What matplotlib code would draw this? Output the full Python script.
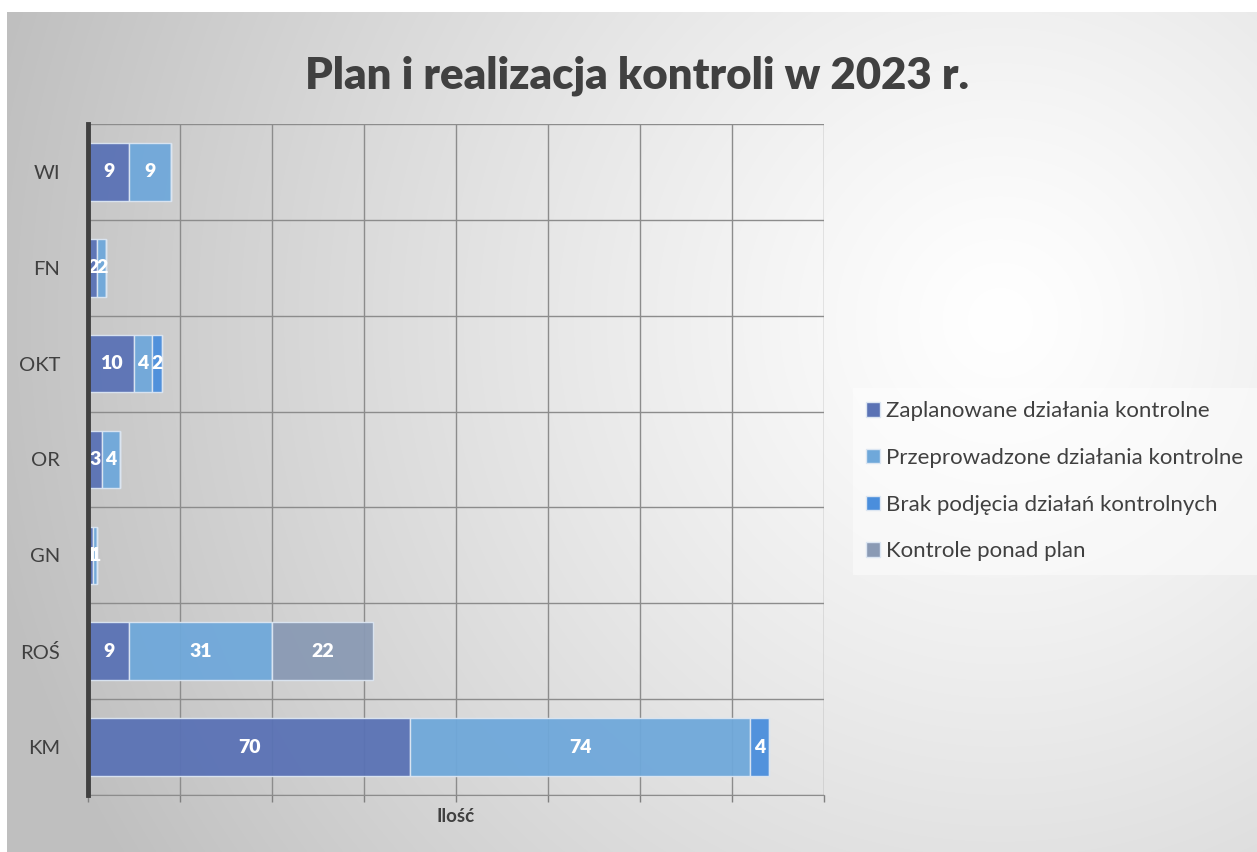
import numpy as np
import matplotlib
matplotlib.use('Agg')
import matplotlib.pyplot as plt
from matplotlib.patches import Patch

plt.rcParams['font.family'] = ['Lato', 'DejaVu Sans']

# Data
#-----------------------------------------------------------------------------#
categories     = ['KM', 'ROŚ', 'GN', 'OR', 'OKT', 'FN', 'WI']
zaplanowane    = [70, 9, 1, 3, 10, 2, 9]
przeprowadzone = [74, 31, 1, 4, 4, 2, 9]
brak           = [4, 0, 0, 0, 2, 0, 0]
ponad          = [0, 22, 0, 0, 0, 0, 0]
series_names   = ['Zaplanowane działania kontrolne',
                  'Przeprowadzone działania kontrolne',
                  'Brak podjęcia działań kontrolnych',
                  'Kontrole ponad plan']
series_cols    = ['#5A72B5', '#6FA8DA', '#4A8EDC', '#8A9AB4']

W, H = 1257, 852
fig = plt.figure(figsize=(W/100, H/100), dpi=100)
fig.patch.set_facecolor('white')

# Background gradient
#-----------------------------------------------------------------------------#
bg = fig.add_axes([7/W, 0, 1-7/W, 1-12/H])
yy, xx = np.mgrid[0:H-12, 0:W-7]
d = np.sqrt((xx+7-1000)**2 + (yy+12-320)**2)
g = 1.0 - 0.24*np.clip(d/1000, 0, 1.2)**1.2
g = np.clip(g, 0.75, 1.0)
bg.imshow(np.dstack([g, g, g]), aspect='auto', interpolation='bilinear')
bg.axis('off')

# Main axes
#-----------------------------------------------------------------------------#
ax = fig.add_axes([88/W, 57/H, (824-88)/W, (795-124)/H])
ax.patch.set_alpha(0)
y = np.arange(len(categories))
left = np.zeros(len(categories))
for vals, name, col in zip([zaplanowane, przeprowadzone, brak, ponad],
                           series_names, series_cols):
    vals = np.array(vals, dtype=float)
    bars = ax.barh(y, vals, left=left, height=0.6, color=col, alpha=0.95,
                   edgecolor='#dce6f2', linewidth=1, zorder=3)
    for b, v in zip(bars, vals):
        if v > 0:
            ax.text(b.get_x() + b.get_width()/2, b.get_y() + b.get_height()/2,
                    '{:.0f}'.format(v), ha='center', va='center',
                    color='white', fontsize=14, fontweight='heavy', zorder=4)
    left += vals

ax.set_xlim(0, 160)
ax.set_ylim(-0.5, len(categories)-0.5)
ax.set_xticks(np.arange(0, 161, 20))
ax.set_xticklabels([])
ax.tick_params(axis='x', length=5, color='#808080', width=1)
ax.set_yticks(y, labels=categories)
ax.tick_params(axis='y', length=0, labelsize=14.5, labelcolor='#404040', pad=20)
for yb in np.arange(-0.5, len(categories), 1):
    ax.axhline(yb, color='#8c8c8c', linewidth=1, zorder=1)
ax.grid(axis='x', color='#8c8c8c', linewidth=1, zorder=1)
ax.set_axisbelow(True)
for s in ['top', 'right']:
    ax.spines[s].set_visible(False)
ax.spines['bottom'].set_color('#8c8c8c')
ax.spines['left'].set_color('#404040')
ax.spines['left'].set_linewidth(3.5)
ax.spines['left'].set_zorder(5)
ax.set_xlabel('Ilość', fontsize=13.5, fontweight='bold', color='#404040', labelpad=1)

# Title
#-----------------------------------------------------------------------------#
fig.text(637/W, 1-76/H, 'Plan i realizacja kontroli w 2023 r.', ha='center',
         va='center', fontsize=31.5, fontweight='heavy', color='#404040')

# Legend
#-----------------------------------------------------------------------------#
handles = [Patch(facecolor=c, edgecolor='#dce6f2') for c in series_cols]
leg = fig.legend(handles, series_names, loc='upper left',
                 bbox_to_anchor=(853/W, 1-388/H), fontsize=16,
                 handlelength=0.6, handleheight=0.6, handletextpad=0.3,
                 labelspacing=1.2, borderpad=0.6, borderaxespad=0,
                 frameon=True, fancybox=False)
leg.get_frame().set_facecolor('white')
leg.get_frame().set_alpha(0.45)
leg.get_frame().set_edgecolor('none')
for t in leg.get_texts():
    t.set_color('#404040')

fig.savefig('out.png', dpi=100)
